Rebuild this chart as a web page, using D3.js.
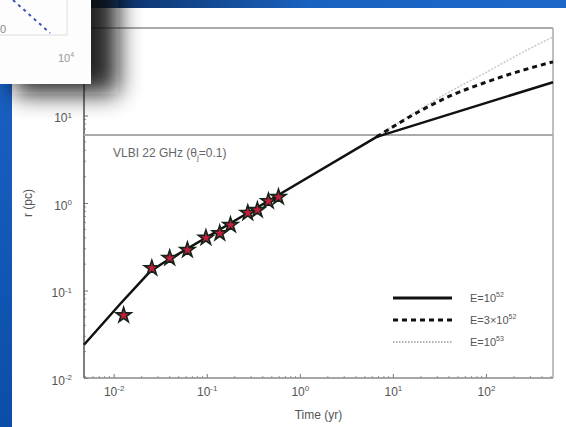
<!DOCTYPE html>
<html>
<head>
<meta charset="utf-8">
<script src="https://cdn.jsdelivr.net/npm/d3@7"></script>
<style>
  body { margin: 0; background: #fff; }
  svg { display: block; font-family: "Liberation Sans", Arial, sans-serif; }
</style>
</head>
<body>
<svg id="chart"></svg>
<script>
// observed stars (time in yr, radius in pc)
const starT = [0.0128, 0.0257, 0.040, 0.062, 0.098, 0.138, 0.18, 0.276, 0.35, 0.46, 0.59];
const starR = [0.052, 0.18, 0.235, 0.29, 0.40, 0.45, 0.56, 0.77, 0.83, 1.05, 1.17];

// model curves
const solidT = [0.0048, 0.012, 0.02, 0.024, 0.028, 0.035, 6.7, 525];
const solidR = [0.024, 0.072, 0.13, 0.16, 0.181, 0.21, 5.7, 24];
const dashT = [6.7, 20, 40, 100, 250, 525];
const dashR = [5.7, 11.4, 16.5, 24, 33, 41];
const dotT = [6.7, 40, 100, 250, 525];
const dotR = [5.7, 18.5, 31, 53, 79];

const vlbiR = 6.0;
const xTicks = [1e-2, 1e-1, 1e0, 1e1, 1e2];
const yTicks = [1e-2, 1e-1, 1e0, 1e1];
const legendLabels = [["E=10", "52"], ["E=3\u00d710", "52"], ["E=10", "53"]];

// the partly hidden inset figure in the corner
const insetX = [0, 1];
const insetY = [0, 1];

const W = 566, H = 427;
const svg = d3.select("#chart").attr("width", W).attr("height", H);
const defs = svg.append("defs");

const barGrad = defs.append("linearGradient").attr("id", "barGrad");
barGrad.append("stop").attr("offset", "15%").attr("stop-color", "#0b2c5c");
barGrad.append("stop").attr("offset", "55%").attr("stop-color", "#1a62c0");
barGrad.append("stop").attr("offset", "100%").attr("stop-color", "#1c68c8");

const sideGrad = defs.append("linearGradient").attr("id", "sideGrad")
    .attr("x1", 0).attr("x2", 0).attr("y1", 0).attr("y2", 1);
sideGrad.append("stop").attr("offset", "0%").attr("stop-color", "#1a60c2");
sideGrad.append("stop").attr("offset", "100%").attr("stop-color", "#0b4ea8");

defs.append("filter").attr("id", "blur")
    .attr("x", "-50%").attr("y", "-50%").attr("width", "200%").attr("height", "200%")
    .append("feGaussianBlur").attr("stdDeviation", 12);

// slide background bits
svg.append("rect").attr("x", 0).attr("y", 0).attr("width", W).attr("height", 8).attr("fill", "url(#barGrad)");
svg.append("rect").attr("x", 0).attr("y", 84).attr("width", 12).attr("height", H - 84).attr("fill", "url(#sideGrad)");

// main plot
const pLeft = 84, pRight = 553, pTop = 28, pBottom = 378;
const x = d3.scaleLog().domain([0.0048, 525]).range([pLeft, pRight]);
const y = d3.scaleLog().domain([0.01, 100]).range([pBottom, pTop]);

function supLabel(sel) {
    sel.selectAll(".tick text").each(function(d) {
        const t = d3.select(this).text("");
        t.append("tspan").text("10");
        t.append("tspan").attr("dy", "-0.55em").attr("font-size", 8).text(Math.round(Math.log10(d)));
    });
}

const xAxis = svg.append("g").attr("transform", `translate(0,${pBottom})`)
    .call(d3.axisBottom(x).tickValues(xTicks).tickSizeInner(-4).tickSizeOuter(0).tickPadding(9))
    .call(supLabel);
const yAxis = svg.append("g").attr("transform", `translate(${pLeft},0)`)
    .call(d3.axisLeft(y).tickValues(yTicks).tickSizeInner(-4).tickSizeOuter(0).tickPadding(12))
    .call(supLabel);
[xAxis, yAxis].forEach(a => {
    a.select(".domain").remove();
    a.selectAll(".tick line").attr("stroke", "#777");
    a.selectAll(".tick text").attr("fill", "#555").attr("font-size", 12);
});
yAxis.selectAll(".tick text").attr("dy", "0.5em");

// minor ticks
const minorX = [];
for (let e = -3; e <= 2; e++) for (let k = 2; k <= 9; k++) {
    const v = k * Math.pow(10, e);
    if (v > x.domain()[0] && v < x.domain()[1]) minorX.push(v);
}
const minorY = [];
for (let e = -2; e <= 1; e++) for (let k = 2; k <= 9; k++) minorY.push(k * Math.pow(10, e));
svg.append("g").selectAll("line").data(minorX).enter().append("line")
    .attr("x1", d => x(d)).attr("x2", d => x(d)).attr("y1", pBottom).attr("y2", pBottom - 2)
    .attr("stroke", "#999");
svg.append("g").selectAll("line").data(minorY).enter().append("line")
    .attr("y1", d => y(d)).attr("y2", d => y(d)).attr("x1", pLeft).attr("x2", pLeft + 2)
    .attr("stroke", "#999");

// frame
svg.append("line").attr("x1", pLeft).attr("x2", pRight).attr("y1", pTop).attr("y2", pTop).attr("stroke", "#aaa").attr("stroke-width", 2);
svg.append("line").attr("x1", pRight).attr("x2", pRight).attr("y1", pTop).attr("y2", pBottom).attr("stroke", "#aaa").attr("stroke-width", 1.5);
svg.append("line").attr("x1", pLeft).attr("x2", pRight).attr("y1", pBottom).attr("y2", pBottom).attr("stroke", "#888").attr("stroke-width", 1.5);
svg.append("line").attr("x1", pLeft).attr("x2", pLeft).attr("y1", pTop).attr("y2", pBottom).attr("stroke", "#555").attr("stroke-width", 1.5);

// VLBI limit
svg.append("line").attr("x1", pLeft).attr("x2", pRight).attr("y1", y(vlbiR)).attr("y2", y(vlbiR))
    .attr("stroke", "#aaa").attr("stroke-width", 2);
const vt = svg.append("text").attr("x", 113).attr("y", 157).attr("fill", "#666").attr("font-size", 12);
vt.append("tspan").text("VLBI 22 GHz (\u03b8");
vt.append("tspan").attr("dy", 3).attr("font-size", 8).text("j");
vt.append("tspan").attr("dy", -3).text("=0.1)");

svg.append("text").attr("x", (pLeft + pRight) / 2).attr("y", 419).attr("text-anchor", "middle")
    .attr("fill", "#555").attr("font-size", 12).text("Time  (yr)");
svg.append("text").attr("transform", `translate(32,${(pTop + pBottom) / 2}) rotate(-90)`)
    .attr("text-anchor", "middle").attr("fill", "#555").attr("font-size", 12).text("r  (pc)");

const smooth = d3.line().x(d => x(d[0])).y(d => y(d[1])).curve(d3.curveMonotoneX);
const straight = d3.line().x(d => x(d[0])).y(d => y(d[1]));
svg.append("path").datum(d3.zip(dotT, dotR)).attr("d", smooth)
    .attr("fill", "none").attr("stroke", "#c8c8c8").attr("stroke-width", 1.5).attr("stroke-dasharray", "2,1.5");
svg.append("path").datum(d3.zip(dashT, dashR)).attr("d", smooth)
    .attr("fill", "none").attr("stroke", "#111").attr("stroke-width", 3).attr("stroke-dasharray", "5,4");
svg.append("path").datum(d3.zip(solidT, solidR)).attr("d", straight)
    .attr("fill", "none").attr("stroke", "#111").attr("stroke-width", 2.5).attr("stroke-linejoin", "round");

svg.append("g").selectAll("path").data(d3.zip(starT, starR)).enter().append("path")
    .attr("d", d3.symbol(d3.symbolStar, 70))
    .attr("transform", d => `translate(${x(d[0])},${y(d[1])})`)
    .attr("fill", "#c41f3a").attr("stroke", "#14241a").attr("stroke-width", 1.6);

// legend
const legStyles = [
    { stroke: "#111", width: 3, dash: null },
    { stroke: "#111", width: 3, dash: "5,4" },
    { stroke: "#999", width: 1.5, dash: "1.5,1.5" }
];
const leg = svg.append("g").selectAll("g").data(legendLabels).enter().append("g")
    .attr("transform", (d, i) => `translate(393,${298 + i * 22})`);
leg.append("line").attr("x1", 0).attr("x2", 59)
    .attr("stroke", (d, i) => legStyles[i].stroke)
    .attr("stroke-width", (d, i) => legStyles[i].width)
    .attr("stroke-dasharray", (d, i) => legStyles[i].dash);
const lt = leg.append("text").attr("x", 77).attr("y", 4).attr("fill", "#555").attr("font-size", 11);
lt.append("tspan").text(d => d[0]);
lt.append("tspan").attr("dy", -5).attr("font-size", 7).text(d => d[1]);

// shadow of the pasted inset, then the inset itself
svg.append("rect").attr("x", 14).attr("y", -20).attr("width", 104).attr("height", 114)
    .attr("fill", "#111").attr("opacity", 0.9).attr("filter", "url(#blur)");
svg.append("rect").attr("x", 0).attr("y", 0).attr("width", 91).attr("height", 84).attr("fill", "#fdfdfd");
const ix = d3.scaleLinear().domain([0, 1]).range([13, 50]);
const iy = d3.scaleLinear().domain([0, 1]).range([0, 33]);
svg.append("path").attr("d", "M0,35H67V0").attr("fill", "none").attr("stroke", "#ddd").attr("stroke-width", 1);
svg.append("path").datum(d3.zip(insetX, insetY)).attr("d", d3.line().x(d => ix(d[0])).y(d => iy(d[1])))
    .attr("stroke", "#4050b8").attr("stroke-width", 2).attr("stroke-dasharray", "3,4");
svg.append("text").attr("x", 0).attr("y", 33).attr("fill", "#888").attr("font-size", 11).text("0");
const it = svg.append("text").attr("x", 58).attr("y", 62).attr("fill", "#999").attr("font-size", 11);
it.append("tspan").text("10");
it.append("tspan").attr("dy", -5).attr("font-size", 7).text("4");
</script>
</body>
</html>
